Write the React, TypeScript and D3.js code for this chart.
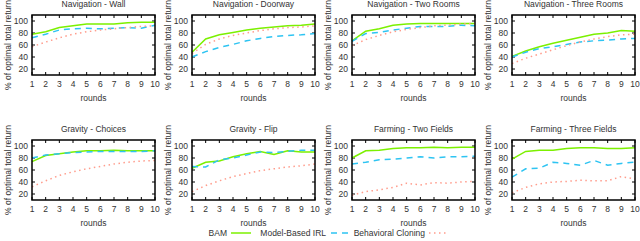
import React from 'react';
import * as d3 from 'd3';

const rounds = [1, 2, 3, 4, 5, 6, 7, 8, 9, 10];
const yTicks = [20, 40, 60, 80, 100];
const titles = [
  'Navigation - Wall', 'Navigation - Doorway', 'Navigation - Two Rooms', 'Navigation - Three Rooms',
  'Gravity - Choices', 'Gravity - Flip', 'Farming - Two Fields', 'Farming - Three Fields',
];
const seriesNames = ['BAM', 'Model-Based IRL', 'Behavioral Cloning'];

const bam = [
  [78, 82, 89, 92, 95, 95, 95, 97, 98, 98],
  [48, 70, 77, 81, 85, 88, 90, 92, 93, 95],
  [67, 83, 87, 93, 95, 96, 96, 96, 96, 96],
  [41, 50, 57, 63, 68, 73, 78, 80, 84, 83],
  [74, 84, 87, 90, 92, 92, 93, 92, 92, 92],
  [63, 73, 75, 82, 87, 91, 86, 92, 90, 90],
  [80, 92, 93, 96, 97, 97, 98, 97, 98, 98],
  [78, 91, 93, 93, 96, 97, 97, 96, 96, 97],
];
const irl = [
  [72, 78, 85, 87, 88, 87, 88, 89, 88, 93],
  [40, 49, 56, 61, 67, 71, 74, 76, 77, 79],
  [66, 79, 81, 85, 88, 91, 91, 91, 93, 92],
  [40, 48, 54, 57, 61, 65, 67, 68, 70, 71],
  [80, 85, 87, 89, 90, 91, 91, 91, 91, 92],
  [66, 65, 77, 80, 85, 90, 89, 91, 93, 93],
  [70, 73, 77, 78, 80, 82, 80, 82, 82, 83],
  [48, 62, 63, 73, 71, 68, 76, 68, 71, 73],
];
const bc = [
  [57, 65, 72, 78, 82, 85, 87, 89, 91, 92],
  [46, 61, 70, 76, 80, 84, 87, 89, 90, 92],
  [59, 69, 76, 82, 86, 89, 92, 93, 95, 96],
  [29, 38, 45, 52, 59, 65, 70, 74, 77, 78],
  [32, 42, 51, 57, 62, 66, 70, 73, 75, 76],
  [24, 34, 42, 49, 54, 59, 62, 65, 67, 70],
  [18, 24, 27, 31, 38, 35, 39, 38, 40, 41],
  [22, 31, 37, 40, 41, 43, 42, 42, 49, 45],
];

const colors = ['#7cf000', '#2ec4f2', '#ff9c8c'];
const dashes = ['none', '6,5', '1.5,3.5'];
const font = '"Liberation Sans", Arial, sans-serif';

const Panel = ({ idx }: { idx: number }) => {
  const col = idx % 4;
  const row = Math.floor(idx / 4);
  const ox = col * 160;
  const top = row === 0 ? 15 : 140;
  const height = 60;
  const left = ox + 32;
  const right = ox + 155;
  const x = d3.scaleLinear().domain([1, 10]).range([left, right]);
  const y = d3.scaleLinear().domain([10, 110]).range([top + height, top]);
  const line = d3.line<number>().x((_, i) => x(rounds[i])).y(d => y(d));
  const data = [bam[idx], irl[idx], bc[idx]];
  const tl = 3;
  return (
    <g>
      <text x={(left + right) / 2} y={top - 8} textAnchor="middle" fontSize={8.5} fill="#333">{titles[idx]}</text>
      <text transform={`translate(${ox + 11},${top + height / 2}) rotate(-90)`} textAnchor="middle" fontSize={8.5} fill="#333">% of optimal total return</text>
      {yTicks.map(t => (
        <g key={'y' + t}>
          <line x1={left} x2={left + tl} y1={y(t)} y2={y(t)} stroke="#000" strokeWidth={1} />
          <line x1={right} x2={right - tl} y1={y(t)} y2={y(t)} stroke="#000" strokeWidth={1} />
          <text x={left - 4} y={y(t) + 3} textAnchor="end" fontSize={8.5} fill="#333">{t}</text>
        </g>
      ))}
      {rounds.map(r => (
        <g key={'x' + r}>
          <line x1={x(r)} x2={x(r)} y1={top + height} y2={top + height - tl} stroke="#000" strokeWidth={1} />
          <line x1={x(r)} x2={x(r)} y1={top} y2={top + tl} stroke="#000" strokeWidth={1} />
          <text x={x(r)} y={top + height + 12} textAnchor="middle" fontSize={8.5} fill="#333">{r}</text>
        </g>
      ))}
      <text x={(left + right) / 2} y={top + height + 26} textAnchor="middle" fontSize={8.5} fill="#333">rounds</text>
      {data.map((d, i) => (
        <path key={i} d={line(d) || ''} fill="none" stroke={colors[i]} strokeWidth={1.5} strokeDasharray={dashes[i]} />
      ))}
      <rect x={left} y={top} width={right - left} height={height} fill="none" stroke="#000" strokeWidth={1.5} />
    </g>
  );
};

const legendPos = [
  { tx: 227, lx: 231 },
  { tx: 326, lx: 331 },
  { tx: 425, lx: 429 },
];

export default function App() {
  return (
    <svg width={640} height={241} style={{ position: 'absolute', left: 0, top: 0, fontFamily: font, background: '#fff' }}>
      {titles.map((_, i) => <Panel key={i} idx={i} />)}
      {seriesNames.map((n, i) => (
        <g key={n}>
          <text x={legendPos[i].tx} y={236} textAnchor="end" fontSize={8.5} fill="#333">{n}</text>
          <line x1={legendPos[i].lx} x2={legendPos[i].lx + 20} y1={233} y2={233} stroke={colors[i]} strokeWidth={1.5} strokeDasharray={dashes[i]} />
        </g>
      ))}
    </svg>
  );
}
